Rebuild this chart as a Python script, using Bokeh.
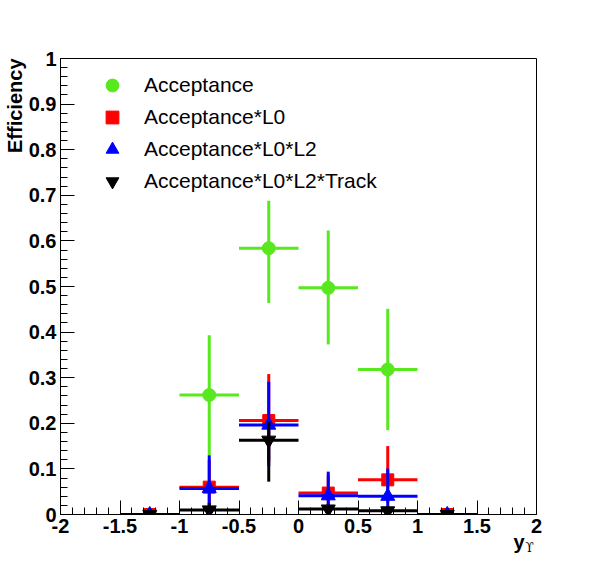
import numpy as np
from bokeh.plotting import figure
from bokeh.models import FixedTicker, Label, Legend, LegendItem, Range1d, Title
from bokeh.embed import file_html
from bokeh.resources import INLINE

# ---- data ----
bin_edges = [-1.5, -1.0, -0.5, 0.0, 0.5, 1.0, 1.5]

acc = [0.0, 0.262, 0.584, 0.497, 0.318, 0.0]
acc_up = [0.0, 0.131, 0.104, 0.126, 0.133, 0.0]
acc_dn = [0.0, 0.132, 0.120, 0.124, 0.133, 0.0]

l0 = [0.0, 0.060, 0.206, 0.047, 0.076, 0.0]
l0_up = [0.0, 0.060, 0.102, 0.040, 0.074, 0.0]
l0_dn = [0.0, 0.040, 0.090, 0.030, 0.050, 0.0]

l2 = [0.0, 0.057, 0.196, 0.041, 0.040, 0.0]
l2_up = [0.0, 0.073, 0.095, 0.053, 0.061, 0.0]
l2_dn = [0.0, 0.040, 0.090, 0.030, 0.030, 0.0]

trk = [0.0, 0.010, 0.163, 0.012, 0.008, 0.0]
trk_up = [0.0, 0.015, 0.040, 0.010, 0.010, 0.0]
trk_dn = [0.0, 0.010, 0.091, 0.012, 0.008, 0.0]

series_names = ["Acceptance", "Acceptance*L0", "Acceptance*L0*L2",
                "Acceptance*L0*L2*Track"]

x_ticks = [-2.0, -1.5, -1.0, -0.5, 0.0, 0.5, 1.0, 1.5, 2.0]
x_tick_labels = ["-2", "-1.5", "-1", "-0.5", "0", "0.5", "1", "1.5", "2"]
y_ticks = [0.0, 0.1, 0.2, 0.3, 0.4, 0.5, 0.6, 0.7, 0.8, 0.9, 1.0]
y_tick_labels = ["0", "0.1", "0.2", "0.3", "0.4", "0.5", "0.6", "0.7",
                 "0.8", "0.9", "1"]
x_minor = [round(-2.0 + 0.1 * i, 1) for i in range(41)]
y_minor = [round(0.02 * i, 2) for i in range(51)]

FONT = "Liberation Sans"

p = figure(width=580, height=556, output_backend="svg", toolbar_location=None,
           x_range=Range1d(-2, 2), y_range=Range1d(0, 1),
           min_border_left=60, min_border_right=44,
           min_border_top=58, min_border_bottom=42)
p.background_fill_color = "white"
p.border_fill_color = "white"
p.outline_line_color = "black"
p.outline_line_width = 1
p.xgrid.visible = False
p.ygrid.visible = False

for ax, ticks, minor, labels in ((p.xaxis[0], x_ticks, x_minor, x_tick_labels),
                                 (p.yaxis[0], y_ticks, y_minor, y_tick_labels)):
    ax.ticker = FixedTicker(ticks=ticks, minor_ticks=minor)
    ax.major_label_overrides = {t: l for t, l in zip(ticks, labels)}
    ax.major_tick_in = 14
    ax.major_tick_out = 0
    ax.minor_tick_in = 7
    ax.minor_tick_out = 0
    ax.major_tick_line_color = "black"
    ax.minor_tick_line_color = "black"
    ax.axis_line_color = "black"
    ax.major_label_text_font = FONT
    ax.major_label_text_font_style = "bold"
    ax.major_label_text_font_size = "20px"
    ax.major_label_text_color = "black"
    ax.major_label_standoff = 4

edges = np.array(bin_edges)
centers = (edges[:-1] + edges[1:]) / 2
lo = edges[:-1]
hi = edges[1:]

styles = [
    (acc, acc_up, acc_dn, "#58e81e", "circle", 13),
    (l0, l0_up, l0_dn, "#ff0000", "square", 12),
    (l2, l2_up, l2_dn, "#0000ff", "triangle", 14),
    (trk, trk_up, trk_dn, "#000000", "inverted_triangle", 14),
]

items = []
for (vals, up, dn, col, mk, sz), name in zip(styles, series_names):
    v = np.array(vals)
    p.segment(x0=lo, x1=hi, y0=v, y1=v, line_color=col, line_width=3)
    p.segment(x0=centers, x1=centers, y0=v - np.array(dn), y1=v + np.array(up),
              line_color=col, line_width=3)
    r = p.scatter(x=centers, y=v, marker=mk, size=sz, fill_color=col,
                  line_color=col, line_width=1)
    items.append(LegendItem(label=name, renderers=[r]))

legend = Legend(items=items, location=(36, 317), orientation="vertical",
                glyph_width=32, glyph_height=32, spacing=0, padding=0,
                margin=0, label_standoff=16, label_height=32,
                border_line_alpha=0, background_fill_alpha=0,
                label_text_font=FONT, label_text_font_size="21px",
                label_text_color="black")
p.add_layout(legend)

# y-axis title at the top end of the axis
p.add_layout(Title(text="Efficiency", align="right", standoff=0,
                   text_font=FONT, text_font_style="bold",
                   text_font_size="20px", text_color="black"), "left")

# x-axis title "y" with subscript Upsilon, in side panels (canvas pixels)
p.add_layout(Label(x=513, y=541, x_units="canvas", y_units="canvas",
                   text="y", text_align="left", text_baseline="alphabetic",
                   text_font=FONT, text_font_style="bold",
                   text_font_size="20px", text_color="black"), "right")
p.add_layout(Label(x=525, y=547, x_units="canvas", y_units="canvas",
                   text="ϒ", text_align="left", text_baseline="alphabetic",
                   text_font="DejaVu Serif", text_font_size="12px",
                   text_color="black"), "right")

open("out.html", "w").write(file_html(p, INLINE))
